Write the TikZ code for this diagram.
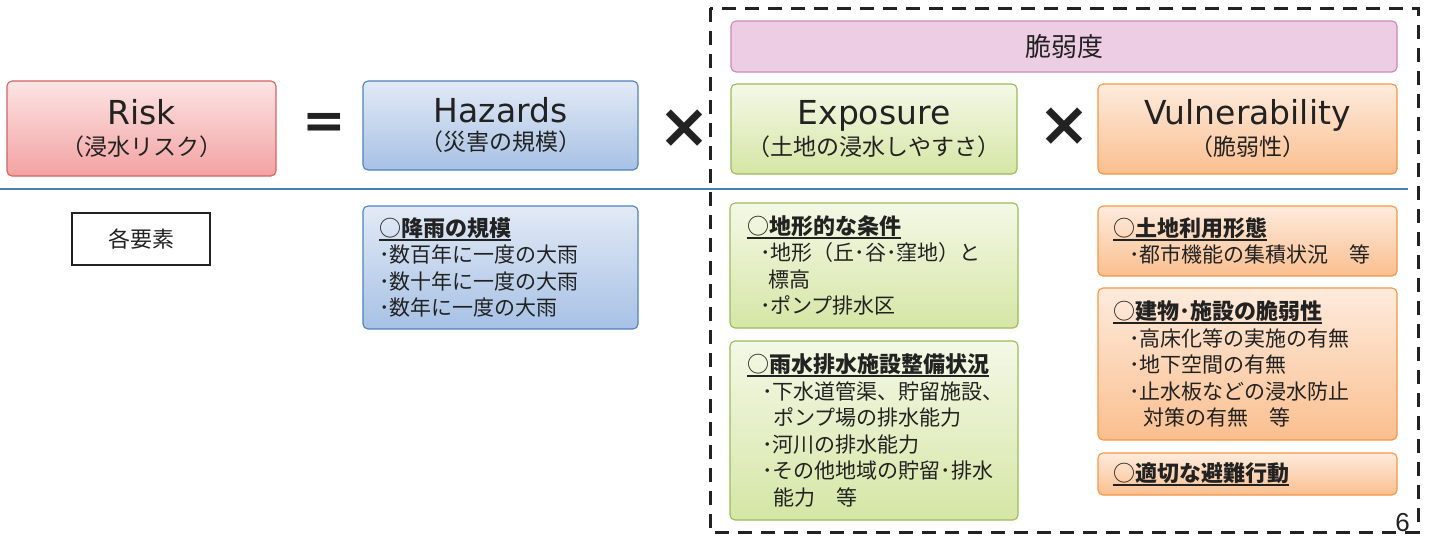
\documentclass[tikz,border=0pt]{standalone}
\usepackage{fontspec}
\setmainfont{Noto Sans CJK JP}
\newfontfamily\latinfont{DejaVu Sans}
\newfontfamily\pagefont{Liberation Sans}

\definecolor{riskTop}{HTML}{FDE4E4}
\definecolor{riskBot}{HTML}{F3A2A2}
\definecolor{riskLine}{HTML}{D06464}
\definecolor{hazTop}{HTML}{E2EAF6}
\definecolor{hazBot}{HTML}{A7C1E5}
\definecolor{hazLine}{HTML}{4F81BD}
\definecolor{expTop}{HTML}{F4F8E7}
\definecolor{expBot}{HTML}{D5E6A5}
\definecolor{expLine}{HTML}{9BBB59}
\definecolor{vulTop}{HTML}{FEEBDD}
\definecolor{vulBot}{HTML}{FABF8F}
\definecolor{vulLine}{HTML}{F79646}
\definecolor{degFill}{HTML}{EDCDE3}
\definecolor{degLine}{HTML}{CC88BB}
\definecolor{sepBlue}{HTML}{4A7EBB}
\definecolor{ink}{HTML}{222222}

\newcommand\ulhd[1]{\setbox0=\hbox{\fontsize{22}{26.6}\selectfont#1}\rlap{\rule[-4.5pt]{\wd0}{1.8pt}}\box0}

\begin{document}
\begin{tikzpicture}[x=1pt,y=-1pt,
    card/.style={draw,rounded corners=5pt,line width=1.1pt,inner sep=0pt,text=ink},
    titlebox/.style={card,align=center,font=\fontsize{23}{31}\selectfont},
    infobox/.style={card,align=left,font=\fontsize{21}{26.6}\selectfont},
    riskc/.style={top color=riskTop,bottom color=riskBot,draw=riskLine},
    hazc/.style={top color=hazTop,bottom color=hazBot,draw=hazLine},
    expc/.style={top color=expTop,bottom color=expBot,draw=expLine},
    vulc/.style={top color=vulTop,bottom color=vulBot,draw=vulLine},
    opsign/.style={text=ink,inner sep=0pt,font=\latinfont\bfseries\fontsize{62}{62}\selectfont}]
    \useasboundingbox(0,0)rectangle(1432,538);

    % frame round the vulnerability side
    \draw[line width=3pt,dash pattern=on 14pt off 9pt,ink](710,8)rectangle(1418,532);
    \draw[line width=1.8pt,sepBlue](0,189)--(1408,189);

    % top row
    \node[titlebox,riskc,minimum width=269,minimum height=95](risk)at(141.5,128.5)
        {{\latinfont\fontsize{33}{33}\selectfont Risk}\\（浸水リスク）};
    \node[opsign,font=\latinfont\bfseries\fontsize{52}{52}\selectfont](eq)at(324.5,126){=};
    \node[titlebox,hazc,minimum width=275,minimum height=89,font=\fontsize{23}{28}\selectfont](haz)at(500.5,125.5)
        {{\latinfont\fontsize{33}{33}\selectfont Hazards}\\（災害の規模）};
    \node[opsign](times1)at(684.5,129){×};
    \node[card,fill=degFill,draw=degLine,minimum width=666,minimum height=51,font=\fontsize{26}{26}\selectfont](deg)at(1064,46.5){脆弱度};
    \node[titlebox,expc,minimum width=286,minimum height=90](exp)at(874,129)
        {{\latinfont\fontsize{33}{33}\selectfont Exposure}\\（土地の浸水しやすさ）};
    \node[opsign](times2)at(1064.5,127){×};
    \node[titlebox,vulc,minimum width=299,minimum height=90](vul)at(1247.5,129)
        {{\latinfont\fontsize{33}{33}\selectfont Vulnerability}\\（脆弱性）};

    % elements
    \node[draw=ink,line width=1.5pt,text=ink,minimum width=138,minimum height=52,font=\fontsize{22}{22}\selectfont](elem)at(141,239){各要素};
    \node[infobox,hazc,minimum width=275,minimum height=123,text width=243,inner xsep=16pt](hazinfo)at(500.5,267.5)
        {\ulhd{○\textbf{降雨の規模}}\\･数百年に一度の大雨\\･数十年に一度の大雨\\･数年に一度の大雨};
    \node[infobox,expc,minimum width=288,minimum height=125,text width=254,inner xsep=17pt](expinfoA)at(874,265.5)
        {\ulhd{○\textbf{地形的な条件}}\\\hspace*{13pt}･地形（丘･谷･窪地）と\\\hspace*{21pt}標高\\\hspace*{13pt}･ポンプ排水区};
    \node[infobox,expc,minimum width=288,minimum height=179,text width=254,inner xsep=17pt](expinfoB)at(874,430.5)
        {\ulhd{○\textbf{雨水排水施設整備状況}}\\\hspace*{15pt}･下水道管渠、貯留施設、\\\hspace*{26pt}ポンプ場の排水能力\\\hspace*{15pt}･河川の排水能力\\\hspace*{15pt}･その他地域の貯留･排水\\\hspace*{26pt}能力　等};
    \node[infobox,vulc,minimum width=299,minimum height=70,text width=269,inner xsep=15pt](vulinfoA)at(1247.5,241)
        {\ulhd{○\textbf{土地利用形態}}\\\hspace*{16pt}･都市機能の集積状況　等};
    \node[infobox,vulc,minimum width=299,minimum height=152,text width=269,inner xsep=15pt](vulinfoB)at(1247.5,364)
        {\ulhd{○\textbf{建物･施設の脆弱性}}\\\hspace*{16pt}･高床化等の実施の有無\\\hspace*{16pt}･地下空間の有無\\\hspace*{16pt}･止水板などの浸水防止\\\hspace*{30pt}対策の有無　等};
    \node[infobox,vulc,minimum width=299,minimum height=42,text width=269,inner xsep=15pt](vulinfoC)at(1247.5,474)
        {\ulhd{○\textbf{適切な避難行動}}};

    \node[text=ink,inner sep=0pt,font=\pagefont\fontsize{26}{26}\selectfont](page)at(1402.5,522.5){6};
\end{tikzpicture}
\end{document}
